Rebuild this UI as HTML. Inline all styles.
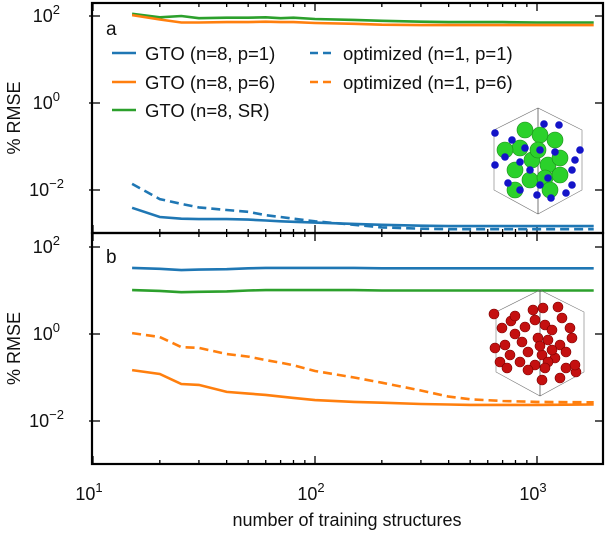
<!DOCTYPE html>
<html><head><meta charset="utf-8"><style>
body{margin:0;background:#fff}
svg text{font-family:"Liberation Sans",sans-serif;fill:#111}
</style></head><body>
<svg id="c" width="606" height="530" xmlns="http://www.w3.org/2000/svg"></svg>
<script>
const NS="http://www.w3.org/2000/svg";
// x positions (training structures)
const xA=[15,20,25,30,40,50,60,70,80,100,150,200,300,400,500,700,1000,1800];
const aBlueSolid=[-2.41,-2.62,-2.66,-2.67,-2.67,-2.68,-2.70,-2.72,-2.73,-2.75,-2.78,-2.80,-2.82,-2.83,-2.83,-2.83,-2.83,-2.83];
const aBlueDash=[-1.86,-2.21,-2.32,-2.40,-2.46,-2.50,-2.58,-2.62,-2.66,-2.72,-2.80,-2.86,-2.89,-2.90,-2.90,-2.90,-2.90,-2.90];
const aGreen=[2.05,1.97,2.0,1.95,1.96,1.96,1.97,1.95,1.96,1.93,1.91,1.89,1.87,1.86,1.86,1.86,1.85,1.85];
const aOrange=[2.02,1.92,1.85,1.85,1.86,1.86,1.87,1.86,1.86,1.84,1.82,1.80,1.79,1.79,1.79,1.79,1.79,1.79];
const xB=[15,20,25,30,40,50,60,70,80,100,150,200,300,400,500,700,1000,1800];
const bBlue=[1.52,1.50,1.47,1.48,1.49,1.51,1.52,1.52,1.52,1.52,1.52,1.51,1.51,1.51,1.51,1.51,1.51,1.51];
const bGreen=[1.01,0.99,0.96,0.97,0.98,1.00,1.01,1.01,1.01,1.01,1.01,1.00,1.00,1.00,1.00,1.00,1.00,1.00];
const bOrangeDash=[0.02,-0.07,-0.30,-0.32,-0.46,-0.52,-0.60,-0.66,-0.72,-0.85,-1.00,-1.12,-1.30,-1.44,-1.50,-1.54,-1.56,-1.57];
const bOrangeSolid=[-0.83,-0.92,-1.15,-1.17,-1.33,-1.37,-1.40,-1.44,-1.47,-1.52,-1.56,-1.58,-1.61,-1.62,-1.63,-1.63,-1.63,-1.62];
const yTicks=[2,0,-2];
const xTicks=[1,2,3];

const svg=document.getElementById('c');
function el(t,a,p){const e=document.createElementNS(NS,t);for(const k in a)e.setAttribute(k,a[k]);(p||svg).appendChild(e);return e;}
const X0=93,DEC=222;
function xs(v){return X0+(Math.log10(v)-1)*DEC;}
const panels=[{top:3,bot:233,y2:16},{top:233,bot:464,y2:247}];
function ys(p,l){return panels[p].y2+(2-l)*43.5;}
const L=92,R=603;
function line(p,xv,yv,color,dash,name){
  const d=xv.map((x,i)=>(i?'L':'M')+xs(x).toFixed(1)+','+ys(p,yv[i]).toFixed(1)).join('');
  const e=el('path',{d:d,fill:'none',stroke:color,'stroke-width':2.6,'stroke-dasharray':dash?'9,5':'none'});
  
  
}
const BL='#1f77b4',OR='#ff7f0e',GR='#2ca02c';
panels.forEach((pn,pi)=>{
  const g=el('g',{});
  
  
  for(let d=1;d<=3;d++)for(let m=1;m<10;m++){const v=m*Math.pow(10,d);const x=xs(v);if(x<L||x>R)continue;
    const len=m==1?8:4;
    el('line',{x1:x,x2:x,y1:pn.top,y2:pn.top+len,stroke:'#000','stroke-width':1.3},g);
    el('line',{x1:x,x2:x,y1:pn.bot,y2:pn.bot-len,stroke:'#000','stroke-width':1.3},g);}
  yTicks.forEach(t=>{const y=ys(pi,t);
    el('line',{x1:L-3,x2:L+8,y1:y,y2:y,stroke:'#000','stroke-width':1.3},g);
    el('line',{x1:R-8,x2:R,y1:y,y2:y,stroke:'#000','stroke-width':1.3},g);
    const tx=el('text',{x:t<0?64:60,y:y+6,'font-size':18,'text-anchor':'end'},g);
    tx.textContent='10';
    const s=el('tspan',{dy:-8,'font-size':13},tx);s.textContent=String(t).replace('-','−');
    
  });
  const yt=el('text',{x:0,y:0,'font-size':18,'text-anchor':'middle',transform:`translate(20,${(pn.top+pn.bot)/2}) rotate(-90)`},g);
  yt.textContent='% RMSE';
  
  const pl=el('text',{x:106,y:pn.top+(pi?30:32),'font-size':19},g);pl.textContent=pi?'b':'a';
  
});
line(0,xA,aGreen,GR,false,'line-a-gto-sr');
line(0,xA,aOrange,OR,false,'line-a-gto-p6');
line(0,xA,aBlueDash,BL,true,'line-a-opt-p1');
line(0,xA,aBlueSolid,BL,false,'line-a-gto-p1');
line(1,xB,bBlue,BL,false,'line-b-gto-p1');
line(1,xB,bGreen,GR,false,'line-b-gto-sr');
line(1,xB,bOrangeDash,OR,true,'line-b-opt-p6');
line(1,xB,bOrangeSolid,OR,false,'line-b-gto-p6');
panels.forEach(pn=>el('rect',{x:L,y:pn.top,width:R-L,height:pn.bot-pn.top,fill:'none',stroke:'#000','stroke-width':2.2}));
xTicks.forEach(t=>{const tx=el('text',{x:xs(Math.pow(10,t))-4,y:500,'font-size':18,'text-anchor':'middle'});
  tx.textContent='10';const s=el('tspan',{dy:-8,'font-size':13},tx);s.textContent=t;
  });
const xt=el('text',{x:347,y:526,'font-size':18,'text-anchor':'middle'});xt.textContent='number of training structures';

const leg=[[112,53,BL,false,'GTO (n=8, p=1)'],[112,82,OR,false,'GTO (n=8, p=6)'],[112,110,GR,false,'GTO (n=8, SR)'],[310,53,BL,true,'optimized (n=1, p=1)'],[310,82,OR,true,'optimized (n=1, p=6)']];
leg.forEach(r=>{const g=el('g',{});
  
  el('line',{x1:r[0],x2:r[0]+24,y1:r[1],y2:r[1],stroke:r[2],'stroke-width':2.6,'stroke-dasharray':r[3]?'8,5':'none'},g);
  const t=el('text',{x:r[0]+33,y:r[1]+7,'font-size':18.5},g);t.textContent=r[4];});
function cube(cx,cy,g){const s=44,o=14;
  const pts=[[cx-s,cy-s+o],[cx,cy-s-o+6],[cx+s,cy-s+o],[cx+s,cy+s-o],[cx,cy+s+o-4],[cx-s,cy+s-o]];
  el('polygon',{points:pts.map(p=>p.join(',')).join(' '),fill:'none',stroke:'#777','stroke-width':0.6},g);
  el('line',{x1:cx,y1:cy-s-o+6,x2:cx,y2:cy+s+o-4,stroke:'#555','stroke-width':0.8},g);}
const g1=el('g',{});
cube(538,160,g1);
const green=[[520,148],[540,135],[555,140],[532,160],[548,165],[560,158],[515,170],[530,180],[545,178],[560,175],[505,150],[525,130],[538,150],[550,190],[515,190]];
const blue=[[495,133],[512,140],[544,124],[559,125],[525,148],[540,150],[555,152],[495,165],[505,157],[520,162],[530,170],[540,185],[548,178],[520,190],[508,183],[537,195],[551,198],[572,185],[566,193],[572,170],[575,160],[580,150]];
green.forEach(p=>el('circle',{cx:p[0],cy:p[1],r:8,fill:'#2bd12b',stroke:'#1a8a1a','stroke-width':0.6},g1));
blue.forEach(p=>el('circle',{cx:p[0],cy:p[1],r:3.8,fill:'#1414c8'},g1));
const g2=el('g',{});
cube(540,342,g2);
const red=[[494,314],[511,321],[533,310],[543,308],[558,307],[502,328],[515,334],[525,327],[535,320],[545,325],[552,330],[562,318],[570,328],[572,338],[505,345],[522,342],[538,338],[548,340],[560,345],[495,348],[510,355],[528,352],[542,355],[555,358],[566,352],[520,362],[535,365],[548,362],[500,362],[507,368],[528,370],[545,368],[560,378],[566,368],[576,372],[542,380],[575,365],[515,316],[552,350],[540,346]];
red.forEach(p=>el('circle',{cx:p[0],cy:p[1],r:5,fill:'#c41010',stroke:'#7a0000','stroke-width':0.6},g2));
</script>
</body></html>
